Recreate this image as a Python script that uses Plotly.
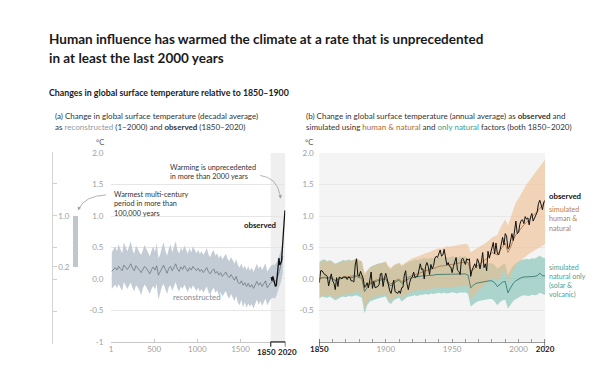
import plotly.graph_objects as go

W, H = 613, 369
def fx(p): return p / W
def fy(p): return 1 - p / H

# ---------------- data ----------------
# (a) reconstructed, 20-year steps centred on years 10..1990
recon_years = list(range(10, 2000, 20))
recon_mean = [0.12, 0.15, 0.18, 0.14, 0.20, 0.16, 0.13, 0.22, 0.18, 0.15,
              0.19, 0.24, 0.17, 0.13, 0.21, 0.18, 0.14, 0.10, 0.16, 0.20,
              0.17, 0.12, 0.08, 0.15, 0.19, 0.14, 0.21, 0.06, 0.11, 0.18,
              0.22, 0.15, 0.09, 0.17, 0.20, 0.13, 0.18, 0.24, 0.16, 0.12,
              0.19, 0.15, 0.21, 0.17, 0.12, 0.18, 0.14, 0.20, 0.16, 0.13,
              0.17, 0.12, 0.15, 0.10, 0.14, 0.18, 0.11, 0.08, 0.13, 0.16,
              0.09, 0.12, 0.06, 0.10, 0.04, 0.08, 0.11, 0.05, 0.02, 0.07,
              0.03, -0.02, 0.04, -0.05, -0.08, -0.03, -0.10, -0.06, -0.12, -0.07,
              -0.13, -0.09, -0.15, -0.08, -0.04, -0.10, -0.06, -0.12, -0.08, -0.03,
              -0.14, -0.09, -0.06, -0.04, -0.05, -0.03, 0.03, 0.12, 0.22, 0.36]
recon_hi = [0.42, 0.48, 0.52, 0.44, 0.55, 0.47, 0.41, 0.58, 0.50, 0.44,
            0.51, 0.60, 0.46, 0.40, 0.53, 0.49, 0.43, 0.38, 0.47, 0.54,
            0.48, 0.41, 0.36, 0.45, 0.52, 0.43, 0.57, 0.33, 0.39, 0.50,
            0.58, 0.45, 0.37, 0.48, 0.55, 0.42, 0.50, 0.60, 0.46, 0.40,
            0.50, 0.44, 0.53, 0.47, 0.40, 0.49, 0.42, 0.52, 0.45, 0.41,
            0.46, 0.40, 0.44, 0.38, 0.43, 0.49, 0.39, 0.35, 0.42, 0.46,
            0.37, 0.41, 0.33, 0.38, 0.31, 0.36, 0.40, 0.32, 0.28, 0.35,
            0.30, 0.24, 0.31, 0.22, 0.18, 0.25, 0.16, 0.21, 0.14, 0.20,
            0.13, 0.18, 0.11, 0.19, 0.24, 0.16, 0.21, 0.14, 0.19, 0.25,
            0.12, 0.17, 0.20, 0.23, 0.22, 0.25, 0.30, 0.38, 0.46, 0.58]
recon_lo = [-0.16, -0.12, -0.09, -0.15, -0.08, -0.14, -0.19, -0.05, -0.11, -0.16,
            -0.11, -0.06, -0.14, -0.20, -0.10, -0.13, -0.18, -0.26, -0.15, -0.09,
            -0.13, -0.19, -0.24, -0.16, -0.11, -0.17, -0.08, -0.33, -0.21, -0.12,
            -0.08, -0.16, -0.24, -0.13, -0.10, -0.19, -0.12, -0.05, -0.15, -0.20,
            -0.12, -0.16, -0.09, -0.14, -0.21, -0.12, -0.17, -0.10, -0.15, -0.19,
            -0.14, -0.20, -0.16, -0.22, -0.17, -0.12, -0.21, -0.25, -0.18, -0.14,
            -0.22, -0.18, -0.26, -0.21, -0.28, -0.23, -0.19, -0.27, -0.31, -0.24,
            -0.29, -0.35, -0.27, -0.38, -0.42, -0.33, -0.45, -0.37, -0.46, -0.39,
            -0.44, -0.40, -0.47, -0.38, -0.33, -0.41, -0.35, -0.43, -0.37, -0.31,
            -0.42, -0.36, -0.32, -0.30, -0.31, -0.29, -0.22, -0.12, -0.04, 0.10]

# (a) observed, decadal averages (centred 1855..2015)
obs_dec_years = list(range(1855, 2016, 10))
obs_dec = [0.03, -0.03, 0.04, -0.03, -0.06, -0.12, -0.10, 0.09, 0.22,
           0.33, 0.22, 0.24, 0.28, 0.49, 0.64, 0.91, 1.09]

# (b) observed, annual 1850..2020
obs_years = list(range(1850, 2021))
obs_annual = [-0.06, 0.13, 0.13, 0.09, 0.07, 0.06, 0.04, -0.11, -0.03, 0.08,
              -0.03, -0.07, -0.17, 0.02, -0.12, 0.03, 0.02, 0.00, 0.03, 0.03,
              0.03, -0.01, 0.03, 0.02, -0.03, -0.03, -0.05, 0.22, 0.32, 0.06,
              0.04, 0.12, 0.07, 0.01, -0.13, -0.11, -0.06, -0.14, -0.02, 0.11,
              -0.15, -0.04, -0.14, -0.13, -0.12, -0.09, 0.08, 0.09, -0.12, 0.01,
              0.09, 0.01, -0.12, -0.19, -0.23, -0.09, -0.02, -0.20, -0.22, -0.23,
              -0.19, -0.23, -0.14, -0.13, 0.06, 0.13, -0.08, -0.17, -0.06, 0.01,
              0.03, 0.11, 0.02, 0.04, 0.04, 0.13, 0.24, 0.15, 0.16, 0.00,
              0.20, 0.26, 0.20, 0.07, 0.23, 0.16, 0.21, 0.33, 0.36, 0.34,
              0.42, 0.46, 0.36, 0.38, 0.47, 0.36, 0.22, 0.26, 0.20, 0.19,
              0.10, 0.20, 0.27, 0.34, 0.14, 0.12, 0.07, 0.31, 0.33, 0.29,
              0.23, 0.32, 0.30, 0.32, 0.04, 0.14, 0.20, 0.24, 0.18, 0.32,
              0.27, 0.16, 0.27, 0.42, 0.18, 0.24, 0.13, 0.44, 0.33, 0.42,
              0.52, 0.58, 0.40, 0.57, 0.41, 0.38, 0.45, 0.58, 0.66, 0.54,
              0.72, 0.68, 0.48, 0.50, 0.59, 0.72, 0.61, 0.80, 0.92, 0.72,
              0.74, 0.87, 0.93, 0.94, 0.88, 0.99, 0.95, 0.97, 0.86, 0.98,
              1.04, 0.92, 0.97, 1.00, 1.06, 1.20, 1.25, 1.18, 1.10, 1.22,
              1.25]

# (b) simulated, every second year 1850..2020
sim_years = list(range(1850, 2021, 2))
hum_mean = [0.00, 0.02, 0.03, 0.02, 0.03, 0.01, -0.02, 0.00, 0.02, 0.03,
            0.03, 0.04, 0.04, 0.05, 0.06, 0.05, 0.04, -0.15, -0.10, -0.06,
            -0.04, -0.02, -0.01, 0.00, 0.01, 0.02, -0.05, -0.08, -0.04, -0.02,
            0.00, -0.04, -0.02, 0.02, 0.04, 0.06, 0.07, 0.08, 0.10, 0.12,
            0.13, 0.14, 0.15, 0.17, 0.18, 0.20, 0.20, 0.21, 0.22, 0.22,
            0.23, 0.24, 0.25, 0.25, 0.26, 0.27, 0.26, 0.12, 0.15, 0.19,
            0.22, 0.26, 0.29, 0.32, 0.37, 0.42, 0.40, 0.38, 0.45, 0.52,
            0.57, 0.42, 0.50, 0.62, 0.70, 0.75, 0.81, 0.86, 0.90, 0.94,
            0.99, 1.03, 1.07, 1.12, 1.17, 1.22]
hum_hi = [0.25, 0.27, 0.30, 0.26, 0.28, 0.27, 0.22, 0.25, 0.27, 0.28,
          0.28, 0.30, 0.28, 0.30, 0.33, 0.30, 0.28, 0.10, 0.14, 0.18,
          0.20, 0.22, 0.24, 0.25, 0.26, 0.28, 0.20, 0.18, 0.22, 0.24,
          0.26, 0.22, 0.25, 0.28, 0.30, 0.33, 0.34, 0.36, 0.38, 0.40,
          0.41, 0.42, 0.44, 0.46, 0.47, 0.49, 0.48, 0.50, 0.52, 0.51,
          0.52, 0.53, 0.53, 0.54, 0.55, 0.56, 0.54, 0.42, 0.45, 0.48,
          0.50, 0.53, 0.55, 0.58, 0.62, 0.66, 0.68, 0.70, 0.80, 0.88,
          0.95, 0.85, 0.98, 1.12, 1.22, 1.28, 1.36, 1.44, 1.50, 1.56,
          1.62, 1.67, 1.72, 1.78, 1.84, 1.90]
hum_lo = [-0.30, -0.28, -0.25, -0.27, -0.26, -0.28, -0.32, -0.28, -0.26, -0.25,
          -0.25, -0.23, -0.24, -0.22, -0.20, -0.22, -0.24, -0.45, -0.38, -0.32,
          -0.30, -0.28, -0.27, -0.25, -0.25, -0.24, -0.32, -0.35, -0.30, -0.28,
          -0.26, -0.30, -0.28, -0.24, -0.22, -0.20, -0.19, -0.18, -0.17, -0.17,
          -0.17, -0.16, -0.16, -0.15, -0.15, -0.14, -0.14, -0.14, -0.13, -0.13,
          -0.13, -0.12, -0.12, -0.12, -0.11, -0.11, -0.13, -0.32, -0.27, -0.22,
          -0.18, -0.14, -0.10, -0.06, -0.02, 0.02, 0.00, -0.03, 0.02, 0.07,
          0.14, -0.05, 0.05, 0.15, 0.22, 0.26, 0.30, 0.34, 0.37, 0.40,
          0.43, 0.46, 0.48, 0.50, 0.52, 0.55]
nat_mean = [0.00, 0.02, 0.02, 0.01, 0.02, 0.00, -0.03, -0.01, 0.01, 0.02,
            0.02, 0.03, 0.02, 0.03, 0.04, 0.02, 0.01, -0.20, -0.13, -0.08,
            -0.06, -0.04, -0.03, -0.02, -0.01, 0.00, -0.08, -0.11, -0.06, -0.04,
            -0.02, -0.07, -0.04, -0.01, 0.01, 0.02, 0.03, 0.03, 0.04, 0.05,
            0.05, 0.05, 0.06, 0.06, 0.07, 0.07, 0.07, 0.07, 0.07, 0.07,
            0.08, 0.08, 0.07, 0.08, 0.08, 0.08, 0.06, -0.14, -0.10, -0.07,
            -0.06, -0.05, -0.04, -0.04, -0.03, -0.03, -0.06, -0.12, -0.08, -0.05,
            -0.04, -0.22, -0.14, -0.07, -0.03, 0.00, 0.02, 0.03, 0.03, 0.03,
            0.04, 0.04, 0.05, 0.09, 0.05, 0.05]
nat_hi = [0.27, 0.30, 0.31, 0.28, 0.30, 0.27, 0.24, 0.26, 0.28, 0.30,
          0.29, 0.31, 0.29, 0.30, 0.32, 0.29, 0.28, 0.06, 0.13, 0.18,
          0.21, 0.23, 0.24, 0.25, 0.26, 0.27, 0.18, 0.15, 0.21, 0.23,
          0.25, 0.20, 0.23, 0.26, 0.28, 0.29, 0.31, 0.30, 0.32, 0.33,
          0.33, 0.32, 0.34, 0.33, 0.35, 0.34, 0.35, 0.34, 0.35, 0.34,
          0.36, 0.35, 0.34, 0.36, 0.35, 0.36, 0.33, 0.13, 0.17, 0.21,
          0.22, 0.23, 0.24, 0.24, 0.25, 0.25, 0.22, 0.16, 0.20, 0.23,
          0.24, 0.06, 0.14, 0.21, 0.25, 0.28, 0.30, 0.31, 0.32, 0.31,
          0.33, 0.32, 0.34, 0.37, 0.34, 0.33]
nat_lo = [-0.31, -0.28, -0.29, -0.30, -0.28, -0.31, -0.34, -0.32, -0.29, -0.28,
          -0.29, -0.27, -0.28, -0.27, -0.26, -0.28, -0.30, -0.55, -0.42, -0.36,
          -0.34, -0.32, -0.31, -0.30, -0.29, -0.28, -0.37, -0.40, -0.34, -0.32,
          -0.30, -0.36, -0.32, -0.29, -0.28, -0.27, -0.26, -0.27, -0.25, -0.25,
          -0.24, -0.25, -0.23, -0.24, -0.23, -0.22, -0.23, -0.22, -0.23, -0.22,
          -0.21, -0.22, -0.23, -0.21, -0.22, -0.21, -0.24, -0.44, -0.40, -0.37,
          -0.35, -0.34, -0.33, -0.33, -0.32, -0.32, -0.36, -0.42, -0.37, -0.34,
          -0.33, -0.47, -0.41, -0.35, -0.32, -0.29, -0.27, -0.26, -0.26, -0.27,
          -0.25, -0.26, -0.25, -0.22, -0.24, -0.25]

# warmest multi-century period (range, °C)
warm_cat = ["warmest"]
warm_lo = [0.2]
warm_hi = [1.0]

# shaded observed period and tick labels
obs_period = [1850, 2020]
a_tickvals = [1, 500, 1000, 1500]
a_ticktext = ["1", "500", "1000", "1500"]
b_tickvals = [1850, 1900, 1950, 2000, 2020]
y_vals = [-1, -0.5, 0, 0.5, 1, 1.5, 2]
y_text = ["-1", "-0.5", "0.0", "0.5", "1.0", "1.5", "2.0"]

# ---------------- colours ----------------
FONT = "Lato"
C_TXT = "#2a2a2a"
C_TICK = "#a0a0a0"
C_GRID = "#e6e6e6"
C_RECON_BAND = "#c3ccd4"
C_RECON_LINE = "#6b7884"
C_HUM_BAND = "rgba(238,185,135,0.55)"
C_HUM_LINE = "#a8713d"
C_NAT_BAND = "rgba(110,185,172,0.55)"
C_NAT_LINE = "#2f6e64"
C_HUM_TXT = "#b98150"
C_NAT_TXT = "#4aa193"

fig = go.Figure()

# ---- panel (a) ----
fig.add_trace(go.Scatter(x=recon_years, y=recon_hi, mode="lines", line=dict(width=0),
                         xaxis="x", yaxis="y", hoverinfo="skip"))
fig.add_trace(go.Scatter(x=recon_years, y=recon_lo, mode="lines", line=dict(width=0),
                         fill="tonexty", fillcolor=C_RECON_BAND, xaxis="x", yaxis="y", hoverinfo="skip"))
fig.add_trace(go.Scatter(x=recon_years, y=recon_mean, mode="lines",
                         line=dict(color=C_RECON_LINE, width=0.8), xaxis="x", yaxis="y"))
fig.add_trace(go.Scatter(x=obs_dec_years, y=obs_dec, mode="lines",
                         line=dict(color="#111111", width=1.3), xaxis="x", yaxis="y"))

# ---- panel (b) ----
fig.add_trace(go.Scatter(x=sim_years, y=nat_hi, mode="lines", line=dict(width=0),
                         xaxis="x2", yaxis="y2", hoverinfo="skip"))
fig.add_trace(go.Scatter(x=sim_years, y=nat_lo, mode="lines", line=dict(width=0),
                         fill="tonexty", fillcolor=C_NAT_BAND, xaxis="x2", yaxis="y2", hoverinfo="skip"))
fig.add_trace(go.Scatter(x=sim_years, y=hum_hi, mode="lines", line=dict(width=0),
                         xaxis="x2", yaxis="y2", hoverinfo="skip"))
fig.add_trace(go.Scatter(x=sim_years, y=hum_lo, mode="lines", line=dict(width=0),
                         fill="tonexty", fillcolor=C_HUM_BAND, xaxis="x2", yaxis="y2", hoverinfo="skip"))
fig.add_trace(go.Scatter(x=sim_years, y=nat_mean, mode="lines",
                         line=dict(color=C_NAT_LINE, width=0.8), xaxis="x2", yaxis="y2"))
fig.add_trace(go.Scatter(x=sim_years, y=hum_mean, mode="lines",
                         line=dict(color=C_HUM_LINE, width=0.8), xaxis="x2", yaxis="y2"))
fig.add_trace(go.Scatter(x=obs_years, y=obs_annual, mode="lines",
                         line=dict(color="#111111", width=1.0), xaxis="x2", yaxis="y2"))

# ---- mini bar ----
fig.add_trace(go.Bar(x=warm_cat, y=[h - l for h, l in zip(warm_hi, warm_lo)], base=warm_lo,
                     width=5 / 38, xaxis="x3", yaxis="y3",
                     marker=dict(color="#bcc3c9", line=dict(width=0),
                                 pattern=dict(shape="/", fgcolor="#d3d8dc", size=3, solidity=0.3))))

tickfont = dict(family=FONT, size=8, color=C_TICK)
YD = [fy(338), fy(144)]
fig.update_layout(
    width=W, height=H, margin=dict(l=0, r=0, t=0, b=0),
    paper_bgcolor="white", plot_bgcolor="white", showlegend=False,
    font=dict(family=FONT, color=C_TXT),
    xaxis=dict(domain=[fx(97), fx(277)], range=[1, 2020], anchor="y",
               tickvals=a_tickvals, ticktext=a_ticktext, ticks="inside", ticklen=3,
               tickcolor="#c8c8c8", showline=True, linecolor="#c8c8c8", linewidth=1,
               showgrid=False, zeroline=False, tickfont=tickfont),
    yaxis=dict(domain=YD, range=[-1, 2], anchor="x", tickvals=y_vals, ticktext=y_text,
               showgrid=True, gridcolor=C_GRID, gridwidth=1, zeroline=False, showline=False,
               ticks="outside", ticklen=5, tickcolor="rgba(0,0,0,0)", tickfont=tickfont),
    xaxis2=dict(domain=[fx(312), fx(545)], range=[1850, 2020], anchor="y2",
                tickvals=b_tickvals,
                ticktext=["<b><span style='color:#1a1a1a'>1850</span></b>", "1900", "1950", "2000",
                          "<b><span style='color:#1a1a1a'>2020</span></b>"],
                ticks="inside", ticklen=3, tickcolor="#9a9a9a",
                minor=dict(dtick=10, tick0=1850, ticks="inside", ticklen=3, tickcolor="#9a9a9a"),
                showline=True, linecolor="#9a9a9a", linewidth=1,
                showgrid=False, zeroline=False, tickfont=tickfont),
    yaxis2=dict(domain=YD, range=[-1, 2], anchor="x2", tickvals=y_vals[1:], ticktext=y_text[1:],
                showgrid=True, gridcolor="#e8e8e8", gridwidth=1, zeroline=False, showline=False,
                ticks="outside", ticklen=3, tickcolor="rgba(0,0,0,0)", tickfont=tickfont),
    xaxis3=dict(domain=[fx(37), fx(75)], range=[-23.5 / 38, 14.5 / 38], anchor="y3",
                visible=False, type="category"),
    yaxis3=dict(domain=[fy(340), fy(143)], range=[-1.01, 2.0], anchor="x3",
                tickvals=[-1, -0.5, 0, 0.2, 0.5, 1, 1.5, 2],
                ticktext=["", "", "", "0.2", "", "1.0", "", ""],
                ticks="inside", ticklen=4, tickcolor="#cfcfcf", ticklabelposition="inside",
                showline=True, linecolor="#d5d5d5", linewidth=1, showgrid=False,
                zeroline=False, tickfont=tickfont),
    bargap=0,
)

shapes = []
# panel b background
shapes.append(dict(type="rect", xref="x2 domain", yref="y2 domain", x0=0, x1=1, y0=0, y1=1,
                   fillcolor="#f4f4f4", line=dict(width=0), layer="below"))
# panel a observed period shading
shapes.append(dict(type="rect", xref="x", yref="y domain", x0=obs_period[0], x1=obs_period[1],
                   y0=0, y1=1, fillcolor="#efefef", line=dict(width=0), layer="below"))
# bracket under panel a
for xv in obs_period:
    shapes.append(dict(type="line", xref="x", yref="paper", x0=xv, x1=xv, y0=fy(338), y1=fy(343),
                       line=dict(color="#333333", width=1.2)))
shapes.append(dict(type="line", xref="x", yref="paper", x0=obs_period[0], x1=obs_period[1],
                   y0=fy(338), y1=fy(338), line=dict(color="#333333", width=1.2)))
# end ticks panel b
for xv in obs_period:
    shapes.append(dict(type="line", xref="x2", yref="paper", x0=xv, x1=xv, y0=fy(335), y1=fy(343),
                       line=dict(color="#333333", width=1.2)))

def curve(p0, c, p1):
    return "M {} {} Q {} {} {} {}".format(fx(p0[0]), fy(p0[1]), fx(c[0]), fy(c[1]), fx(p1[0]), fy(p1[1]))

shapes.append(dict(type="path", xref="paper", yref="paper",
                   path=curve((251, 167), (268, 169), (271.5, 187)),
                   line=dict(color="#a0a0a0", width=0.8)))
shapes.append(dict(type="path", xref="paper", yref="paper",
                   path=curve((92, 187), (70, 188), (64, 201)),
                   line=dict(color="#a0a0a0", width=0.8)))
fig.update_layout(shapes=shapes)

ann = []
def text(x, y, s, size=8, color=C_TXT, xanchor="left", yanchor="middle", align="left"):
    ann.append(dict(x=fx(x), y=fy(y), xref="paper", yref="paper", text=s, showarrow=False,
                    xanchor=xanchor, yanchor=yanchor, align=align,
                    font=dict(family=FONT, size=size, color=color)))

text(31, 27, "<b>Human influence has warmed the climate at a rate that is unprecedented</b>", 13.5, "#1a1a1a")
text(31, 46, "<b>in at least the last 2000 years</b>", 13.5, "#1a1a1a")
text(31, 82, "<b>Changes in global surface temperature relative to 1850–1900</b>", 8.8, "#1a1a1a")

text(37, 106, "(a) Change in global surface temperature (decadal average)", 8.0, "#333")
text(37, 117, "as <span style='color:#8e9ba6'>reconstructed</span> (1–2000) and <b>observed</b> (1850–2020)", 8.0, "#333")
text(296, 106, "(b) Change in global surface temperature (annual average) as <b>observed</b> and", 8.0, "#333")
text(296, 117, "simulated using <span style='color:#b0692e'>human &amp; natural</span> and "
               "<span style='color:#3d9a8b'>only natural</span> factors (both 1850–2020)", 8.0, "#333")

text(86, 133, "°C", 7.6, "#555", "center")
text(301, 133, "°C", 7.6, "#555", "center")

text(156, 152, "Warming is unprecedented<br>in more than 2000 years", 7.3, "#333", yanchor="top")
text(98, 180, "Warmest multi-century<br>period in more than<br>100,000 years", 7.3, "#333", yanchor="top")

text(269, 218, "<b>observed</b>", 7.8, "#111", "right")
text(186, 292, "reconstructed", 7.8, "#7e8a95", "center")

text(257, 348, "<b>1850</b>", 8, "#1a1a1a", "center")
text(279, 348, "<b>2020</b>", 8, "#1a1a1a", "center")

text(547, 188, "<b>observed</b>", 7.8, "#111")
text(547, 195.5, "simulated<br>human &amp;<br>natural", 7.2, C_HUM_TXT, yanchor="top")
text(547, 254.5, "simulated<br>natural only<br>(solar &amp;<br>volcanic)", 7.0, C_NAT_TXT, yanchor="top")

# arrow heads
for tip, off in [((272, 191), (-0.5, -5)), ((63, 203), (1.5, -4))]:
    ann.append(dict(x=fx(tip[0]), y=fy(tip[1]), xref="paper", yref="paper", text="",
                    showarrow=True, ax=off[0], ay=off[1], arrowhead=2, arrowsize=0.9,
                    arrowwidth=0.8, arrowcolor="#a0a0a0", standoff=0))

fig.update_layout(annotations=ann)
fig.write_html("out.html")
